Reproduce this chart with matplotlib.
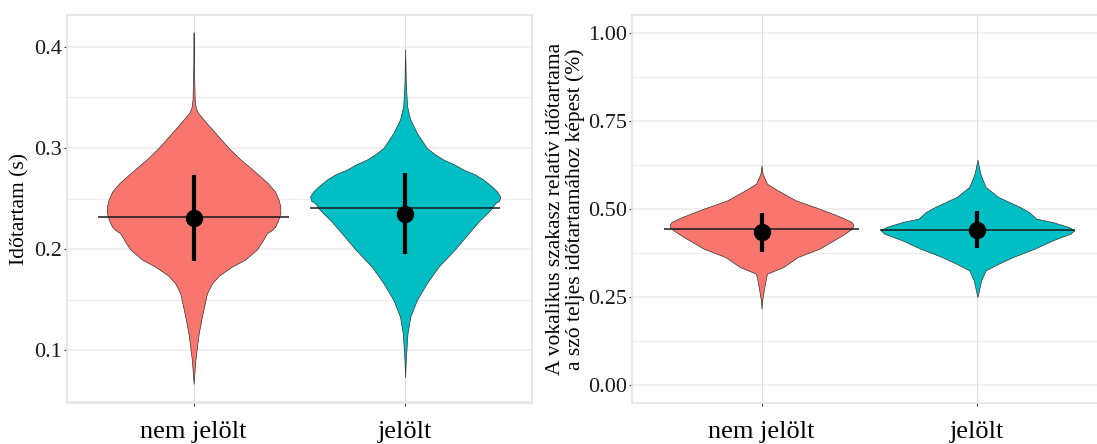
import matplotlib
matplotlib.use("Agg")
import matplotlib.pyplot as plt
import numpy as np

plt.rcParams['font.family'] = ['Liberation Serif', 'DejaVu Serif']

categories = ["nem jelölt", "jelölt"]
colors = ["#F8766D", "#00BFC4"]

# ---- Left panel: Időtartam (s) ----
L_red_y = [0.4143, 0.3812, 0.3481, 0.3400, 0.3349, 0.3250, 0.3151, 0.3002, 0.2900, 0.2820,
           0.2730, 0.2655, 0.2570, 0.2489, 0.2420, 0.2357, 0.2290, 0.2224, 0.2190, 0.2159,
           0.2080, 0.2000, 0.1900, 0.1828, 0.1740, 0.1663, 0.1563, 0.1332, 0.1167, 0.0902, 0.0671]
L_red_w = [0.0, 0.0016, 0.005, 0.010, 0.020, 0.060, 0.102, 0.165, 0.215, 0.26,
           0.310, 0.350, 0.385, 0.402, 0.410, 0.41, 0.400, 0.386, 0.370, 0.347,
           0.325, 0.30, 0.245, 0.181, 0.120, 0.087, 0.063, 0.039, 0.024, 0.008, 0.0]
L_teal_y = [0.3977, 0.3647, 0.3415, 0.3283, 0.3151, 0.3002, 0.2940, 0.2886, 0.2840, 0.2787,
            0.2740, 0.2688, 0.2621, 0.2570, 0.2522, 0.2480, 0.2456, 0.2407, 0.2350, 0.2291,
            0.2159, 0.2000, 0.1828, 0.1663, 0.1497, 0.1332, 0.1167, 0.0902, 0.0737]
L_teal_w = [0.0, 0.003, 0.009, 0.024, 0.055, 0.102, 0.140, 0.181, 0.230, 0.276,
            0.330, 0.370, 0.410, 0.435, 0.449, 0.445, 0.426, 0.410, 0.385, 0.355,
            0.30, 0.236, 0.158, 0.102, 0.055, 0.024, 0.011, 0.003, 0.0]
L_median = [0.2323, 0.2407]
L_mean = [0.2307, 0.2347]
L_low = [0.1887, 0.1950]
L_high = [0.2737, 0.2754]

# ---- Right panel: relative duration ----
R_red_y = [0.6234, 0.5999, 0.5715, 0.5525, 0.5241, 0.5005, 0.4768, 0.4626, 0.4532, 0.4437,
           0.4296, 0.4106, 0.3870, 0.3632, 0.3348, 0.3161, 0.2782, 0.2404, 0.2168]
R_red_w = [0.0, 0.005, 0.025, 0.075, 0.159, 0.268, 0.368, 0.418, 0.426, 0.418,
           0.385, 0.334, 0.268, 0.167, 0.100, 0.025, 0.013, 0.003, 0.0]
R_teal_y = [0.6396, 0.5999, 0.5620, 0.5336, 0.5052, 0.4910, 0.4721, 0.4626, 0.4484, 0.4390,
            0.4296, 0.4106, 0.3870, 0.3632, 0.3443, 0.3255, 0.2971, 0.2687, 0.2497]
R_teal_w = [0.0, 0.013, 0.038, 0.097, 0.197, 0.239, 0.273, 0.348, 0.423, 0.448,
            0.431, 0.348, 0.264, 0.164, 0.097, 0.038, 0.017, 0.007, 0.0]
R_median = [0.4427, 0.4390]
R_mean = [0.434, 0.441]
R_low = [0.379, 0.389]
R_high = [0.489, 0.493]

L_yticks = [0.1, 0.2, 0.3, 0.4]
L_yminor = [0.05, 0.15, 0.25, 0.35]
R_yticks = [0.0, 0.25, 0.5, 0.75, 1.0]
R_yminor = [0.125, 0.375, 0.625, 0.875]

fig = plt.figure(figsize=(10.97, 4.44), dpi=100)
axL = fig.add_axes([0.0608, 0.0930, 0.4242, 0.8732])
axR = fig.add_axes([0.5761, 0.0930, 0.4330, 0.8732])

GRID = "#EBEBEB"


def style(ax, yticks, yminor, ylim, fmt):
    ax.set_xlim(0.4, 2.6)
    ax.set_ylim(*ylim)
    ax.set_facecolor("white")
    for y in yticks:
        ax.axhline(y, color=GRID, lw=1.1, zorder=0)
    for y in yminor:
        ax.axhline(y, color=GRID, lw=0.9, zorder=0)
    for x in [1, 2]:
        ax.axvline(x, color="#DADADA", lw=0.7, zorder=0)
    ax.set_yticks(yticks)
    ax.set_yticklabels([fmt.format(v) for v in yticks])
    ax.set_xticks([1, 2])
    ax.set_xticklabels(categories)
    ax.tick_params(axis='y', length=2.2, width=0.8, color="#333333", pad=1.5,
                   labelsize=16, labelcolor="#1a1a1a")
    ax.tick_params(axis='x', length=2.2, width=0.8, color="#333333", pad=11,
                   labelsize=19, labelcolor="black")
    for s in ax.spines.values():
        s.set_color("#E3E3E3")
        s.set_linewidth(1.2)


def violins(ax, ys, ws, med, mean, low, high):
    for i, (y, w) in enumerate(zip(ys, ws)):
        pos = i + 1
        y = np.array(y)
        w = np.array(w)
        ax.fill_betweenx(y, pos - w, pos + w, facecolor=colors[i],
                         edgecolor="#333333", lw=0.5, zorder=2)
        ax.plot([pos - 0.45, pos + 0.45], [med[i], med[i]], color="#1a1a1a",
                lw=1.1, zorder=3, solid_capstyle='butt')
        ax.plot([pos, pos], [low[i], high[i]], color="black", lw=3.0, zorder=4,
                solid_capstyle='butt')
        ax.plot([pos], [mean[i]], 'o', color="black", ms=11.5, zorder=5)


style(axL, L_yticks, L_yminor, (0.0484, 0.4314), "{:.1f}")
violins(axL, [L_red_y, L_teal_y], [L_red_w, L_teal_w], L_median, L_mean, L_low, L_high)
axL.set_ylabel("Időtartam (s)", fontsize=15.5, labelpad=3)

style(axR, R_yticks, R_yminor, (-0.05, 1.05), "{:.2f}")
violins(axR, [R_red_y, R_teal_y], [R_red_w, R_teal_w], R_median, R_mean, R_low, R_high)
axR.set_ylabel("A vokalikus szakasz relatív időtartama\na szó teljes időtartamához képest (%)",
               fontsize=15.5, labelpad=2, linespacing=1.05)

fig.savefig("out.png", dpi=100)
